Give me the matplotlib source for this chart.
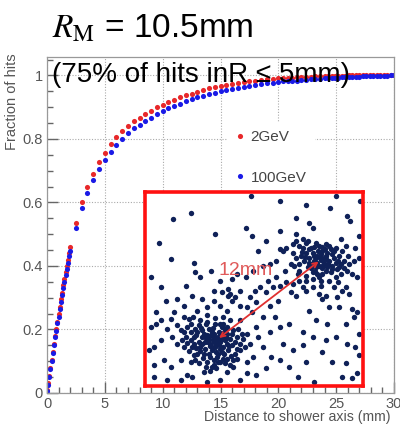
import numpy as np
import matplotlib.pyplot as plt
from matplotlib.ticker import MultipleLocator

plt.rcParams['font.family'] = ['Liberation Sans', 'DejaVu Sans']
plt.rcParams['mathtext.fontset'] = 'stix'

# radial distance (mm) and cumulative fraction of hits
dist = [0.0, 0.1, 0.2, 0.3, 0.4, 0.5, 0.6, 0.7, 0.8, 0.9, 1.0, 1.1, 1.2, 1.3, 1.4,
        1.5, 1.6, 1.7, 1.8, 1.9, 2.0, 2.5, 3.0, 3.5, 4.0, 4.5, 5.0, 5.5, 6.0, 6.5,
        7.0, 7.5, 8.0, 8.5, 9.0, 9.5, 10.0, 10.5, 11.0, 11.5, 12.0, 12.5, 13.0,
        13.5, 14.0, 14.5, 15.0, 15.5, 16.0, 16.5, 17.0, 17.5, 18.0, 18.5, 19.0,
        19.5, 20.0, 20.4, 20.8, 21.2, 21.6, 22.0, 22.4, 22.8, 23.2, 23.6, 24.0,
        24.3, 24.6, 24.9, 25.2, 25.5, 25.8, 26.1, 26.4, 26.7, 27.0, 27.3, 27.6,
        27.9, 28.2, 28.5, 28.8, 29.1, 29.4, 29.7, 30.0]
frac_2gev = [0.01, 0.03, 0.055, 0.08, 0.105, 0.13, 0.155, 0.18, 0.20, 0.225, 0.25,
             0.27, 0.295, 0.315, 0.34, 0.36, 0.38, 0.40, 0.42, 0.44, 0.46, 0.535,
             0.60, 0.65, 0.69, 0.728, 0.755, 0.784, 0.805, 0.825, 0.842, 0.855,
             0.867, 0.878, 0.889, 0.899, 0.908, 0.917, 0.924, 0.931, 0.937, 0.943,
             0.949, 0.954, 0.959, 0.963, 0.967, 0.971, 0.974, 0.977, 0.980, 0.982,
             0.984, 0.986, 0.988, 0.989, 0.991, 0.992, 0.993, 0.993, 0.994, 0.995,
             0.996, 0.996, 0.997, 0.997, 0.998,
             0.998, 0.998, 0.999, 0.999, 0.999, 0.999, 1.0, 1.0, 1.0, 1.0, 1.0,
             1.0, 1.0, 1.0, 1.0, 1.0, 1.0, 1.0, 1.0, 1.0]
frac_100gev = [0.005, 0.025, 0.05, 0.075, 0.10, 0.125, 0.15, 0.175, 0.195, 0.22,
               0.24, 0.265, 0.285, 0.31, 0.33, 0.35, 0.37, 0.39, 0.41, 0.43, 0.447,
               0.52, 0.582, 0.63, 0.671, 0.706, 0.733, 0.758, 0.781, 0.80, 0.818,
               0.833, 0.845, 0.857, 0.867, 0.877, 0.887, 0.896, 0.904, 0.911, 0.918,
               0.925, 0.931, 0.936, 0.941, 0.946, 0.950, 0.954, 0.958, 0.961, 0.964,
               0.967, 0.970, 0.972, 0.975, 0.977, 0.979, 0.981, 0.982, 0.983, 0.984,
               0.986, 0.987, 0.988, 0.989, 0.990, 0.991,
               0.991, 0.992, 0.993, 0.993, 0.994, 0.994, 0.995, 0.995, 0.996, 0.996,
               0.997, 0.997, 0.998, 0.998, 0.998, 0.999, 0.999, 0.999, 1.0, 1.0]

ytick_vals = [0, 0.2, 0.4, 0.6, 0.8, 1.0]
ytick_labels = ['0', '0.2', '0.4', '0.6', '0.8', '1']

# hit map of the inset (image coordinates, y grows downward)
hits = [
    # scattered hits
    (333, 45), (590, 45), (150, 95), (98, 115), (225, 158), (318, 140), (335, 165),
    (55, 185), (572, 80), (625, 105), (635, 120), (510, 125), (520, 140), (470, 160),
    (490, 175), (605, 175), (660, 165), (92, 235), (160, 245), (165, 275), (212, 270),
    (135, 315), (180, 290), (240, 300), (275, 295), (292, 280), (318, 290), (340, 270),
    (370, 255), (390, 250), (410, 240), (420, 205), (430, 210), (440, 200), (460, 190),
    (480, 195), (500, 185), (30, 290), (110, 355), (155, 345), (185, 355), (265, 325),
    (270, 340), (285, 350), (275, 360), (300, 375), (320, 380), (335, 395), (345, 330),
    (360, 320), (385, 300), (400, 320), (420, 315), (440, 305), (460, 310), (480, 300),
    (490, 320), (470, 345), (455, 335), (415, 360), (390, 375), (370, 410), (405, 410),
    (350, 440), (320, 460), (300, 420), (260, 390), (240, 375), (220, 360), (200, 380),
    (170, 390), (130, 410), (92, 415), (60, 420), (45, 430), (30, 440), (80, 445),
    (95, 470), (110, 490), (60, 480), (40, 500), (25, 510), (70, 540), (40, 555),
    (90, 560), (120, 540), (150, 545), (165, 540), (140, 585), (155, 590), (190, 575),
    (215, 560), (240, 600), (260, 575), (280, 560), (320, 580), (350, 585), (380, 565),
    (420, 540), (430, 490), (460, 510), (490, 495), (500, 545), (525, 605), (550, 515),
    (580, 545), (610, 590), (620, 550), (640, 595), (660, 525), (655, 580), (550, 355),
    (560, 345), (570, 380), (595, 350), (610, 330), (620, 320), (630, 340), (640, 385),
    (645, 410), (655, 395), (565, 430), (530, 420), (510, 390), (500, 330), (540, 290),
    (600, 260), (625, 270), (640, 280), (655, 290), (660, 230), (645, 240), (650, 200),
    (450, 560), (475, 590), (300, 510), (330, 490), (355, 470), (290, 535),
    (60, 320), (75, 360), (45, 395), (100, 395), (130, 375), (220, 330), (245, 335),
    (265, 345), (300, 330), (330, 350), (350, 365), (380, 335), (410, 290), (435, 270),
    (455, 250), (475, 280), (500, 300), (520, 320), (540, 340), (585, 320), (600, 380),
    (620, 430), (590, 470), (560, 480), (520, 470), (490, 455), (450, 430), (420, 440),
    (390, 455), (370, 500), (395, 530), (340, 530), (320, 545), (300, 600), (200, 605),
    (120, 600), (80, 600), (40, 590), (660, 460), (650, 500), (625, 490), (470, 110),
    (420, 150), (380, 180), (355, 210), (420, 60), (500, 70), (665, 60),
    # first shower core
    (230, 478), (220, 470), (240, 485), (210, 490), (250, 470), (225, 500), (200, 465),
    (235, 455), (260, 490), (215, 510), (245, 515), (195, 485), (205, 445), (255, 450),
    (270, 475), (185, 470), (230, 530), (210, 530), (240, 545), (180, 500), (265, 510),
    (190, 520), (275, 495), (170, 455), (160, 470), (150, 455), (140, 440), (175, 435),
    (200, 425), (225, 430), (250, 430), (280, 450), (290, 470), (285, 520), (260, 535),
    (220, 555), (200, 545), (170, 520), (155, 500), (135, 470), (130, 455), (150, 430),
    (165, 445), (185, 450), (215, 455), (240, 465), (255, 480), (235, 495), (220, 485),
    (205, 475), (195, 505), (250, 500), (228, 515), (212, 465), (245, 440), (232, 470),
    (218, 478), (238, 505), (208, 498), (262, 462), (190, 460), (175, 485), (160, 490),
    (280, 540), (300, 490), (305, 460), (130, 500), (120, 450), (110, 435), (145, 415),
    (200, 405), (270, 420),
    (222, 462), (248, 458), (236, 488), (214, 500), (226, 490), (244, 475), (204, 485),
    (196, 472), (258, 470), (266, 498), (252, 522), (234, 520), (222, 540), (206, 520),
    (186, 490), (178, 512), (168, 465), (182, 442), (196, 432), (218, 442), (238, 432),
    (262, 440), (276, 462), (284, 485), (292, 505), (272, 528), (248, 535), (228, 565),
    (210, 572), (196, 560), (176, 548), (160, 525), (146, 512), (140, 488), (125, 480),
    (150, 478), (166, 503), (188, 532), (232, 545), (256, 548), (270, 555), (295, 445),
    (310, 475), (315, 500), (250, 410), (225, 412), (180, 420), (158, 410),
    # second shower core
    (545, 237), (535, 225), (555, 245), (525, 240), (560, 225), (540, 255), (520, 215),
    (550, 210), (570, 240), (530, 260), (565, 260), (510, 230), (580, 220), (590, 245),
    (575, 205), (540, 195), (515, 200), (500, 215), (495, 240), (505, 260), (520, 275),
    (550, 280), (575, 275), (595, 265), (600, 225), (590, 200), (560, 190), (530, 185),
    (485, 225), (480, 250), (490, 200), (470, 230), (610, 210), (615, 240), (545, 220),
    (535, 245), (555, 230), (525, 225), (548, 262), (565, 215), (580, 255), (512, 248),
    (538, 210), (528, 270), (558, 205), (605, 280), (590, 290), (545, 300), (520, 295),
    (500, 285), (620, 195), (505, 180), (470, 180),
    (532, 232), (552, 252), (562, 235), (542, 228), (520, 250), (510, 245), (568, 250),
    (585, 232), (598, 240), (578, 265), (560, 272), (535, 280), (515, 262), (498, 228),
    (488, 212), (508, 205), (525, 198), (550, 198), (570, 195), (585, 210), (605, 248),
    (615, 262), (598, 305), (570, 300), (545, 315), (480, 270), (465, 255), (460, 215),
    (628, 225), (630, 250),
]
hits_x = [h[0] for h in hits]
hits_y = [h[1] for h in hits]
core_a = (230, 478)
core_b = (545, 237)

fig = plt.figure(figsize=(4, 4.24), dpi=100)
ax = fig.add_axes([47/400, 31/424, 347/400, 336/424])

ax.plot(dist, frac_2gev, 'o', color='#e8282a', ms=3.7, mew=0, label='2GeV')
ax.plot(dist, frac_100gev, 'o', color='#1a1ae6', ms=3.7, mew=0, label='100GeV')

ax.set_xlim(0, 30)
ax.set_ylim(0, 1.058)
ax.xaxis.set_major_locator(MultipleLocator(5))
ax.xaxis.set_minor_locator(MultipleLocator(1))
ax.set_yticks(ytick_vals)
ax.set_yticklabels(ytick_labels)
ax.yaxis.set_minor_locator(MultipleLocator(0.05))
ax.tick_params(which='both', direction='in', colors='#666', labelcolor='#555',
               labelsize=10.5)
ax.tick_params(which='major', length=8, width=1)
ax.tick_params(which='minor', length=4, width=1)
ax.tick_params(axis='x', pad=3)
ax.tick_params(axis='y', pad=3)
for s in ax.spines.values():
    s.set_color('#999')
    s.set_linewidth(0.9)
ax.grid(True, which='major', color='#aaa', linestyle=(0, (1, 1.5)), lw=0.8)

leg = ax.legend(loc='upper left', bbox_to_anchor=(220/400, 1 - 114/424),
                bbox_transform=fig.transFigure, frameon=True, fontsize=11,
                handlelength=0.5, handletextpad=0.45, labelspacing=1.75,
                borderpad=0.55, markerscale=1.0)
leg.get_frame().set_facecolor('white')
leg.get_frame().set_edgecolor('none')
leg.get_frame().set_alpha(1)
for t in leg.get_texts():
    t.set_color('#444')

fig.text(12/400, 1 - 53/424, 'Fraction of hits', rotation=90, ha='center',
         va='top', fontsize=10.5, color='#555')
fig.text(391/400, 1 - 417/424, 'Distance to shower axis (mm)', ha='right',
         va='center', fontsize=10.2, color='#555')

fig.text(52/400, 1 - 38/424, r'$R_{\mathrm{M}}$ = 10.5mm', fontsize=24,
         va='baseline', color='black')
fig.text(52/400, 1 - 82/424, '(75% of hits inR ≤ 5mm)', fontsize=20,
         va='baseline', color='black')

axin = fig.add_axes([145/400, (424 - 386)/424, 218/400, 194/424])
axin.set_facecolor('white')
axin.scatter(hits_x, hits_y, s=15, color='#0f2158', linewidths=0, zorder=2)
axin.set_xlim(12, 673)
axin.set_ylim(618, 32)
axin.set_xticks([])
axin.set_yticks([])
for s in axin.spines.values():
    s.set_color('#ff1010')
    s.set_linewidth(2.6)
axin.annotate('', xy=core_b, xytext=core_a,
              arrowprops=dict(arrowstyle='<->', color='#e03030', lw=1.3,
                              mutation_scale=8), zorder=3)
axin.text(318, 270, '12mm', color='#e05a5a', fontsize=14, ha='center',
          va='center', zorder=4)

fig.savefig('out.png', dpi=100)
